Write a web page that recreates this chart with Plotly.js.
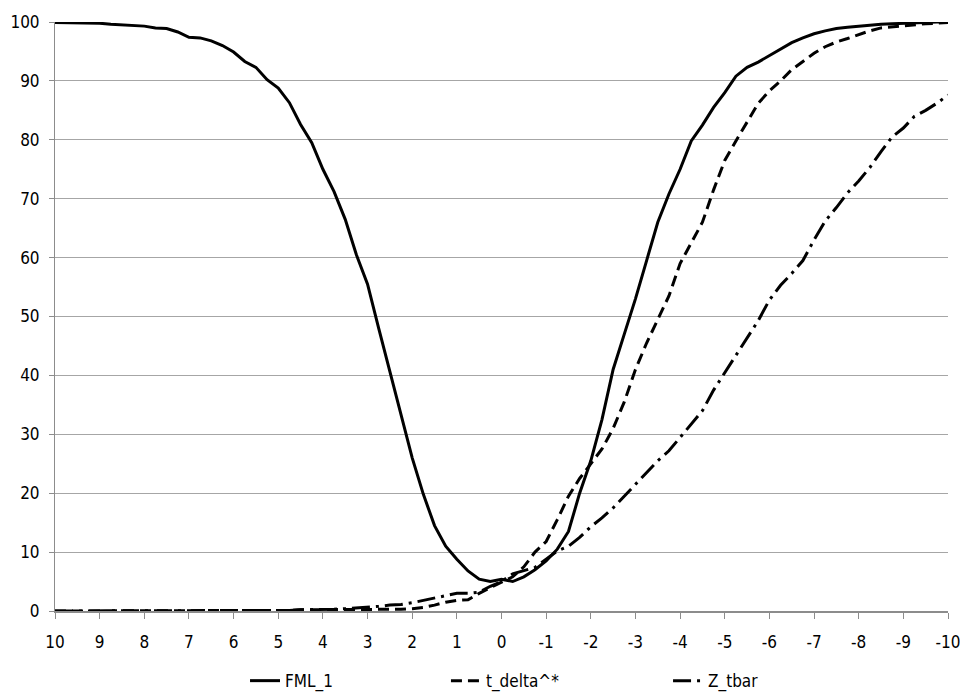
<!DOCTYPE html>
<html>
<head>
<meta charset="utf-8">
<script src="https://cdn.plot.ly/plotly-3.0.1.min.js"></script>
<style>html,body{margin:0;padding:0;background:#fff;}#chart{width:960px;height:695px;}</style>
</head>
<body>
<div id="chart"></div>
<script>
const xVals = [10,9.75,9.5,9.25,9,8.75,8.5,8.25,8,7.75,7.5,7.25,7,6.75,6.5,6.25,6,5.75,5.5,5.25,5,4.75,4.5,4.25,4,3.75,3.5,3.25,3,2.75,2.5,2.25,2,1.75,1.5,1.25,1,0.75,0.5,0.25,0,-0.25,-0.5,-0.75,-1,-1.25,-1.5,-1.75,-2,-2.25,-2.5,-2.75,-3,-3.25,-3.5,-3.75,-4,-4.25,-4.5,-4.75,-5,-5.25,-5.5,-5.75,-6,-6.25,-6.5,-6.75,-7,-7.25,-7.5,-7.75,-8,-8.25,-8.5,-8.75,-9,-9.25,-9.5,-9.75,-10];

const fml1 = [99.9,99.9,99.8,99.8,99.8,99.6,99.5,99.4,99.3,99.0,98.9,98.3,97.4,97.3,96.8,96.0,94.9,93.3,92.3,90.2,88.8,86.3,82.6,79.5,75.0,71.2,66.5,60.5,55.5,48.0,40.5,33.0,26.0,19.8,14.5,11.0,8.8,6.8,5.4,5.0,5.4,5.0,5.8,7.0,8.5,10.5,13.5,20.0,25.5,32.5,41.0,47.0,53.0,59.5,66.0,70.8,75.0,79.8,82.5,85.5,88.0,90.8,92.3,93.2,94.3,95.5,96.5,97.3,98.0,98.5,98.9,99.1,99.3,99.5,99.6,99.7,99.8,99.9,99.9,100,100];

const tDelta = [0,0,0,0,0,0,0,0,0,0,0,0,0,0,0.1,0.1,0.1,0.1,0.1,0.1,0.1,0.1,0.2,0.2,0.2,0.2,0.2,0.2,0.2,0.2,0.3,0.3,0.4,0.6,1.0,1.5,1.8,1.9,3.0,4.0,4.9,5.8,7.5,10.0,11.8,15.5,19.5,22.5,25.0,27.5,31.0,35.5,41.0,45.5,49.5,53.5,59.0,62.5,66.0,71.5,76.5,79.8,83.0,86.2,88.3,90.0,91.9,93.3,94.7,95.8,96.6,97.2,97.9,98.5,99.0,99.2,99.4,99.6,99.7,99.8,99.9];

const zTbar = [0,0,0,0,0,0,0,0,0,0,0,0,0,0,0.1,0.1,0.1,0.1,0.1,0.1,0.1,0.1,0.2,0.2,0.3,0.3,0.4,0.5,0.6,0.8,1.0,1.1,1.4,1.8,2.1,2.5,3.0,3.0,3.2,4.2,5.0,6.3,6.8,7.4,8.8,10.2,11.0,12.5,14.3,15.8,17.5,19.5,21.5,23.5,25.5,27.2,29.5,31.8,34.0,37.5,40.5,43.5,46.5,49.3,52.8,55.3,57.3,59.5,63.0,66.2,68.5,71.0,73.0,75.3,78.0,80.5,82.0,84.0,85.0,86.2,87.6];

const seriesNames = ["FML_1", "t_delta^*", "Z_tbar"];
const xTickVals = [10,9,8,7,6,5,4,3,2,1,0,-1,-2,-3,-4,-5,-6,-7,-8,-9,-10];
const xTickText = ["10","9","8","7","6","5","4","3","2","1","0","-1","-2","-3","-4","-5","-6","-7","-8","-9","-10"];
const yTickVals = [0,10,20,30,40,50,60,70,80,90,100];

const FONT = "DejaVu Sans Condensed, Liberation Sans Narrow, sans-serif";
const FSIZE = 17;

const traces = [
  {x: xVals, y: fml1, name: seriesNames[0], legend: "legend", mode: "lines", line: {color: "#000", width: 3, dash: "solid"}},
  {x: xVals, y: tDelta, name: seriesNames[1], legend: "legend2", mode: "lines", line: {color: "#000", width: 3, dash: "11px,6px"}},
  {x: xVals, y: zTbar, name: seriesNames[2], legend: "legend3", mode: "lines", line: {color: "#000", width: 3, dash: "18px,6px,3px,6px"}}
];

function legendAt(px) {
  return {orientation: "h", xref: "paper", x: px, xanchor: "left",
          yref: "container", y: 0.02, yanchor: "middle",
          font: {family: FONT, size: FSIZE, color: "#000"}, bgcolor: "rgba(0,0,0,0)"};
}

const layout = {
  width: 960, height: 695,
  margin: {l: 55, r: 12, t: 22, b: 84, autoexpand: false},
  paper_bgcolor: "#fff", plot_bgcolor: "#fff",
  font: {family: FONT, size: FSIZE, color: "#000"},
  showlegend: true,
  legend: legendAt(0.2128),
  legend2: legendAt(0.4378),
  legend3: legendAt(0.6865),
  xaxis: {
    range: [10, -10], tickmode: "array", tickvals: xTickVals, ticktext: xTickText,
    showgrid: false, zeroline: false, showline: true, linecolor: "#8c8c8c", linewidth: 2,
    ticks: "outside", ticklen: 6, tickcolor: "#8c8c8c", tickwidth: 1, ticklabelstandoff: 9,
    ticklabeloverflow: "allow", automargin: false,
    tickfont: {family: FONT, size: FSIZE, color: "#000"}
  },
  yaxis: {
    range: [0, 100], tickmode: "array", tickvals: yTickVals,
    showgrid: true, gridcolor: "#a6a6a6", gridwidth: 1, zeroline: false,
    showline: true, linecolor: "#8c8c8c", linewidth: 1, automargin: false,
    ticks: "outside", ticklen: 5, tickcolor: "#8c8c8c", ticklabelstandoff: 6,
    tickfont: {family: FONT, size: FSIZE, color: "#000"}
  }
};

Plotly.newPlot("chart", traces, layout, {staticPlot: true, displayModeBar: false});
</script>
</body>
</html>
